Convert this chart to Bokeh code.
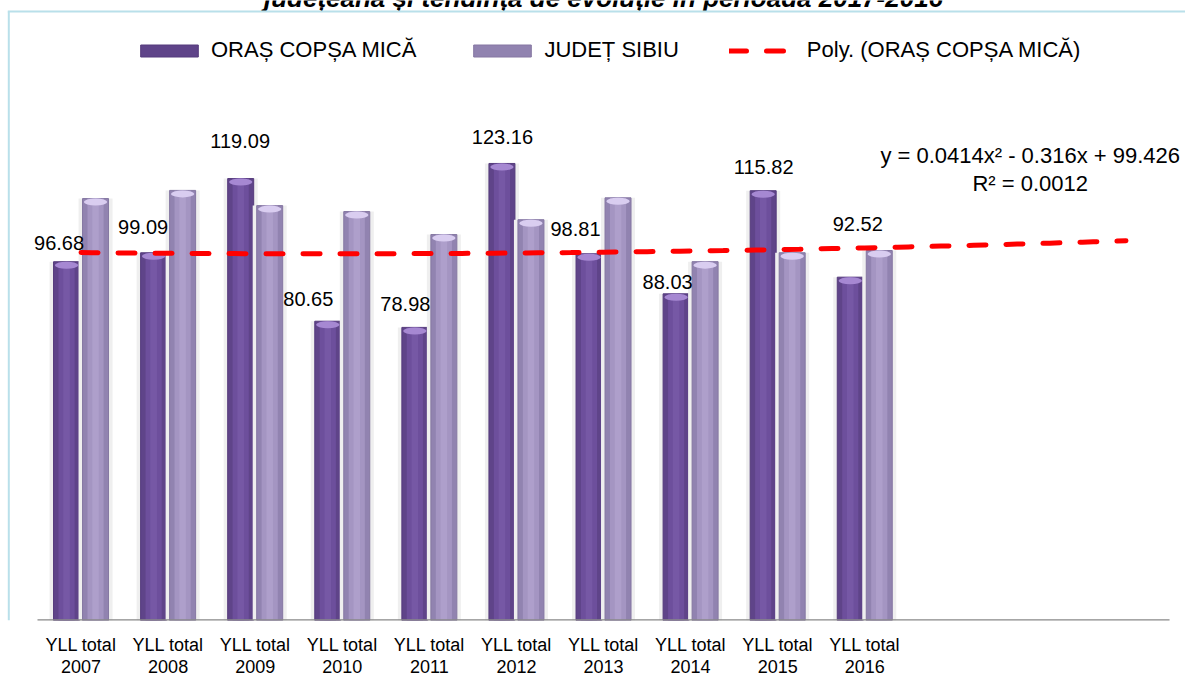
import numpy as np
from bokeh.plotting import figure
from bokeh.models import Range1d, FixedTicker, Legend, LegendItem, ColumnDataSource
from bokeh.core.properties import value
from bokeh.embed import file_html
from bokeh.resources import INLINE

# ---------------- data ----------------
title = "județeană și tendința de evoluție în perioada 2017-2016"
years = ["2007", "2008", "2009", "2010", "2011", "2012", "2013", "2014", "2015", "2016"]
tick_labels = ["YLL total\n" + y for y in years]
copsa = [96.68, 99.09, 119.09, 80.65, 78.98, 123.16, 98.81, 88.03, 115.82, 92.52]
sibiu = [113.7, 115.9, 111.8, 110.2, 104.0, 108.0, 113.9, 96.7, 99.1, 99.7]
forecast_periods = 3
series_names = ["ORAȘ COPȘA MICĂ", "JUDEȚ SIBIU", "Poly. (ORAȘ COPȘA MICĂ)"]
equation_lines = ["y = 0.0414x² - 0.316x + 99.426", "R² = 0.0012"]
# data-label nudges (screen px) as placed in the original chart
label_dx = [-22, -25, -15, -34, -24, -14, -28, -23, -14, -7]
label_dy = [19, 26, 38, 22, 23, 26, 25, 12, 24, 53]

# ---------------- layout constants ----------------
FONT = "Liberation Sans"
FRAME_W, FRAME_H = 1185, 620
BOTTOM = 68
PX_X = 87.08          # px per category
PX_Y = 3.711          # px per unit
LEFT_GAP = 37         # px from figure edge to first category edge
x_start = 0.5 - LEFT_GAP / PX_X
x_end = x_start + FRAME_W / PX_X
y_end = FRAME_H / PX_Y

n_slots = len(years) + forecast_periods
idx = np.arange(1, len(years) + 1)
bw = 26 / PX_X
off = 14.5 / PX_X

p = figure(frame_width=FRAME_W, frame_height=FRAME_H, output_backend="svg",
           toolbar_location=None,
           x_range=Range1d(x_start, x_end), y_range=Range1d(0, y_end),
           y_axis_location=None,
           min_border_left=0, min_border_right=0, min_border_top=0,
           min_border_bottom=BOTTOM)
p.outline_line_color = None
p.xgrid.visible = False
p.ygrid.visible = False
p.background_fill_color = "white"
p.border_fill_color = "white"

# chart title (cut off by the top of the page in the original)
p.text(x=[x_start + 603 / PX_X], y=[y_end + 3 / PX_Y], text=[title],
       text_align="center", text_baseline="alphabetic", text_font=value(FONT),
       text_font_style="bold italic", text_font_size="26px", text_color="#000000")

# chart border (left & top)
border_col = "#b9e0ea"
p.segment(x0=[x_start + 8.3 / PX_X], y0=[0], x1=[x_start + 8.3 / PX_X], y1=[y_end - 11 / PX_Y],
          line_color=border_col, line_width=2)
p.segment(x0=[x_start + 7.3 / PX_X], y0=[y_end - 11 / PX_Y], x1=[x_end], y1=[y_end - 11 / PX_Y],
          line_color=border_col, line_width=2)

# bars (cylinder-like layering)
def cylinder(xs, vals, edge, base, mid, hi, cap):
    src = ColumnDataSource(dict(x=xs, top=vals, cap_y=[v - 3.5 / PX_Y for v in vals]))
    p.vbar(x="x", top="top", width=bw + 8 / PX_X, bottom=0, source=src,
           fill_color="#efefef", line_color=None)
    r = p.vbar(x="x", top="top", width=bw, bottom=0, source=src,
               fill_color=base, line_color=edge, line_width=1)
    p.vbar(x="x", top="top", width=bw * 0.62, bottom=0, source=src,
           fill_color=mid, line_color=None)
    p.vbar(x="x", top="top", width=bw * 0.25, bottom=0, source=src,
           fill_color=hi, line_color=None, fill_alpha=0.7)
    p.ellipse(x="x", y="cap_y", width=bw * 0.9, height=7, height_units="screen",
              source=src, fill_color=cap, line_color=None)
    return r

r1 = cylinder(list(idx - off), copsa, "#553b7c", "#5f4489", "#6d4f9c", "#7a5ca9", "#a688d2")
r2 = cylinder(list(idx + off), sibiu, "#8577a2", "#9183b0", "#a495c2", "#b2a4cf", "#d9cdf0")

# baseline
p.segment(x0=[0.5], y0=[0], x1=[n_slots + 0.5], y1=[0], line_color="#888888", line_width=2.5)

# polynomial trend (order 2) with forward forecast
coef = np.polyfit(idx, copsa, 2)
xt = np.linspace(1, n_slots, 97)
yt = np.polyval(coef, xt)
r3 = p.line(xt, yt, line_color="#ff0000", line_width=5, line_dash="17 20", line_cap="round")

# data labels
lab = ColumnDataSource(dict(x=idx, y=copsa, t=[f"{v:.2f}" for v in copsa],
                            dx=label_dx, dy=[-d for d in label_dy]))
p.text(x="x", y="y", text="t", x_offset="dx", y_offset="dy", source=lab,
       text_align="center", text_baseline="middle", text_font=value(FONT),
       text_font_size="20px", text_color="#000000")

# trendline equation
p.text(x=[11.9, 11.9], y=[125.3, 117.8], text=equation_lines,
       text_align="center", text_baseline="middle", text_font=value(FONT),
       text_font_size="22px", text_color="#000000")

# x axis
ax = p.xaxis[0]
ax.ticker = FixedTicker(ticks=[int(i) for i in idx])
ax.major_label_overrides = {int(i): t for i, t in zip(idx, tick_labels)}
ax.axis_line_color = None
ax.major_tick_line_color = None
ax.minor_tick_line_color = None
ax.major_label_text_font = FONT
ax.major_label_text_font_size = "18px"
ax.major_label_text_color = "#000000"
ax.major_label_text_line_height = 1.1
ax.major_label_standoff = 8

# legend
legend = Legend(items=[LegendItem(label=series_names[0], renderers=[r1]),
                       LegendItem(label=series_names[1], renderers=[r2]),
                       LegendItem(label=series_names[2], renderers=[r3])],
                orientation="horizontal", location=(133, 557),
                glyph_width=72, glyph_height=15, label_standoff=6, spacing=50,
                padding=0, margin=0, border_line_color=None, background_fill_alpha=0,
                label_text_font=FONT, label_text_font_size="22px",
                label_text_color="#000000")
p.add_layout(legend)

open("out.html", "w").write(file_html(p, INLINE))
